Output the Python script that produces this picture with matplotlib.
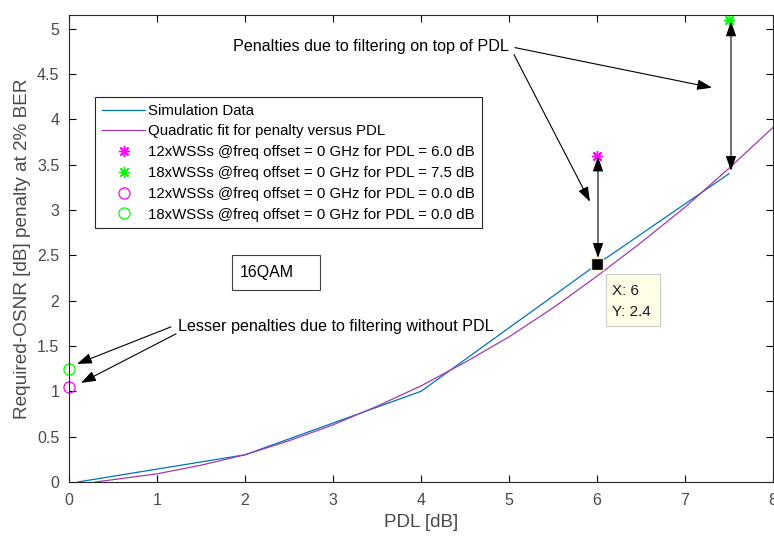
import matplotlib
matplotlib.use("Agg")
import matplotlib.pyplot as plt
from matplotlib.patches import Rectangle

plt.rcParams['font.family'] = ['Liberation Sans', 'DejaVu Sans']

# Data
sim_pdl = [0.1, 2, 4, 6, 7.5]
sim_penalty = [0.0, 0.30, 1.0, 2.4, 3.4]

fit_pdl = [0.3, 1, 1.5, 2, 2.5, 3, 3.5, 4, 4.5, 5, 5.5, 6, 6.5, 7, 7.5, 8]
fit_penalty = [0.0, 0.09, 0.185, 0.30, 0.455, 0.63, 0.835, 1.06, 1.32, 1.60,
               1.92, 2.27, 2.64, 3.03, 3.46, 3.91]

wss12_pdl6 = (6.0, 3.6)
wss18_pdl75 = (7.5, 5.1)
wss12_pdl0 = (0.0, 1.05)
wss18_pdl0 = (0.0, 1.25)
datatip = (6, 2.4)

legend_labels = [
    "Simulation Data",
    "Quadratic fit for penalty versus PDL",
    "12xWSSs @freq offset = 0 GHz for PDL = 6.0 dB",
    "18xWSSs @freq offset = 0 GHz for PDL = 7.5 dB",
    "12xWSSs @freq offset = 0 GHz for PDL = 0.0 dB",
    "18xWSSs @freq offset = 0 GHz for PDL = 0.0 dB",
]
xticks = [0, 1, 2, 3, 4, 5, 6, 7, 8]
yticks = [0, 0.5, 1, 1.5, 2, 2.5, 3, 3.5, 4, 4.5, 5]
ytick_labels = ["0", "0.5", "1", "1.5", "2", "2.5", "3", "3.5", "4", "4.5", "5"]

W, H = 774, 536
fig = plt.figure(figsize=(W / 100, H / 100), dpi=100)
ax = fig.add_axes([69 / W, 1 - 482 / H, 704 / W, 467 / H])

ast = (8, 2, 0)
h1, = ax.plot(sim_pdl, sim_penalty, color='#0072BD', lw=0.9)
h2, = ax.plot(fit_pdl, fit_penalty, color='#A03AB0', lw=0.9)
h3, = ax.plot([wss12_pdl6[0]], [wss12_pdl6[1]], ls='none', marker=ast, ms=8,
              mec='#FF00FF', mew=1.0)
h4, = ax.plot([wss18_pdl75[0]], [wss18_pdl75[1]], ls='none', marker=ast, ms=8,
              mec='#00FF00', mew=1.0, clip_on=False)
h5, = ax.plot([wss12_pdl0[0]], [wss12_pdl0[1]], ls='none', marker='o', ms=8,
              mfc='none', mec='#FF00FF', mew=0.9, clip_on=False)
h6, = ax.plot([wss18_pdl0[0]], [wss18_pdl0[1]], ls='none', marker='o', ms=8,
              mfc='none', mec='#00FF00', mew=0.9, clip_on=False)

# data tip
ax.plot([datatip[0]], [datatip[1]], ls='none', marker='s', ms=8, mfc='black',
        mec='#F2F0C8', mew=1.0, zorder=5)


def px(xp, yp):
    return ((xp - 69) / 88.0, (482 - yp) / 90.6)


def pxa(xp, yp):
    return ((xp - 69) / 704.0, (482 - yp) / 467.0)


x0, y1 = pxa(606, 274)
x1, y0 = pxa(660, 326)
ax.add_patch(Rectangle((x0, y0), x1 - x0, y1 - y0, transform=ax.transAxes,
                       fc='#FFFFE8', ec='#CCCCCC', lw=0.8, zorder=6))
ax.text(*pxa(612, 291), "X: 6", transform=ax.transAxes, fontsize=11,
        color='#1a1a1a', va='center', ha='left', zorder=7)
ax.text(*pxa(612, 312), "Y: 2.4", transform=ax.transAxes, fontsize=11,
        color='#1a1a1a', va='center', ha='left', zorder=7)

ax.set_xlim(0, 8)
ax.set_ylim(0, 5.15)
ax.set_xticks(xticks)
ax.set_xticklabels([str(t) for t in xticks])
ax.set_yticks(yticks)
ax.set_yticklabels(ytick_labels)
ax.tick_params(direction='in', length=5, width=0.8, top=True, right=True,
               labelsize=11.5, labelcolor='#4a4a4a')
ax.tick_params(axis='x', pad=8)
ax.tick_params(axis='y', pad=7)
for s in ax.spines.values():
    s.set_linewidth(0.8)
    s.set_color('#262626')

ax.set_xlabel("PDL [dB]", fontsize=13.5, color='#4a4a4a', labelpad=4)
ax.set_ylabel("Required-OSNR [dB] penalty at 2% BER", fontsize=13.7,
              color='#4a4a4a', labelpad=4)

leg = ax.legend([h1, h2, h3, h4, h5, h6], legend_labels, loc='upper left',
                bbox_to_anchor=pxa(95, 97), fontsize=10.8, frameon=True,
                fancybox=False, edgecolor='#262626', framealpha=1,
                handlelength=2.9, handletextpad=0.2, labelspacing=0.45,
                borderpad=0.45, borderaxespad=0)
leg.get_frame().set_linewidth(0.8)

# 16QAM box
bx0, by1 = pxa(232, 255)
bx1, by0 = pxa(320, 290)
ax.add_patch(Rectangle((bx0, by0), bx1 - bx0, by1 - by0, transform=ax.transAxes,
                       fc='white', ec='#404040', lw=0.8, zorder=4))
ax.text(*pxa(240, 272), "16QAM", transform=ax.transAxes, fontsize=11.5,
        ha='left', va='center', zorder=5)

arrow_kw = dict(arrowstyle='-|>,head_length=0.9,head_width=0.32', color='black',
                lw=0.8, shrinkA=0, shrinkB=0)
dbl_kw = dict(arrowstyle='<|-|>,head_length=0.9,head_width=0.32', color='black',
              lw=0.8, shrinkA=0, shrinkB=0)

# Lesser penalties annotation
ax.text(*px(178, 327), "Lesser penalties due to filtering without PDL",
        fontsize=11.6, ha='left', va='center')
ax.annotate("", xy=px(77, 364), xytext=px(171, 327), arrowprops=arrow_kw,
            annotation_clip=False)
ax.annotate("", xy=px(81, 383), xytext=px(176, 334), arrowprops=arrow_kw,
            annotation_clip=False)

# Penalties on top of PDL annotation
ax.text(*px(233, 47), "Penalties due to filtering on top of PDL",
        fontsize=11.6, ha='left', va='center')
ax.annotate("", xy=px(712, 88), xytext=px(515, 48), arrowprops=arrow_kw,
            annotation_clip=False)
ax.annotate("", xy=px(590, 202), xytext=px(514, 55), arrowprops=arrow_kw,
            annotation_clip=False)

# double arrows
ax.annotate("", xy=px(598, 157), xytext=px(598, 258), arrowprops=dbl_kw,
            annotation_clip=False)
ax.annotate("", xy=px(731, 22), xytext=px(731, 171), arrowprops=dbl_kw,
            annotation_clip=False)

fig.savefig("out.png", dpi=100)
